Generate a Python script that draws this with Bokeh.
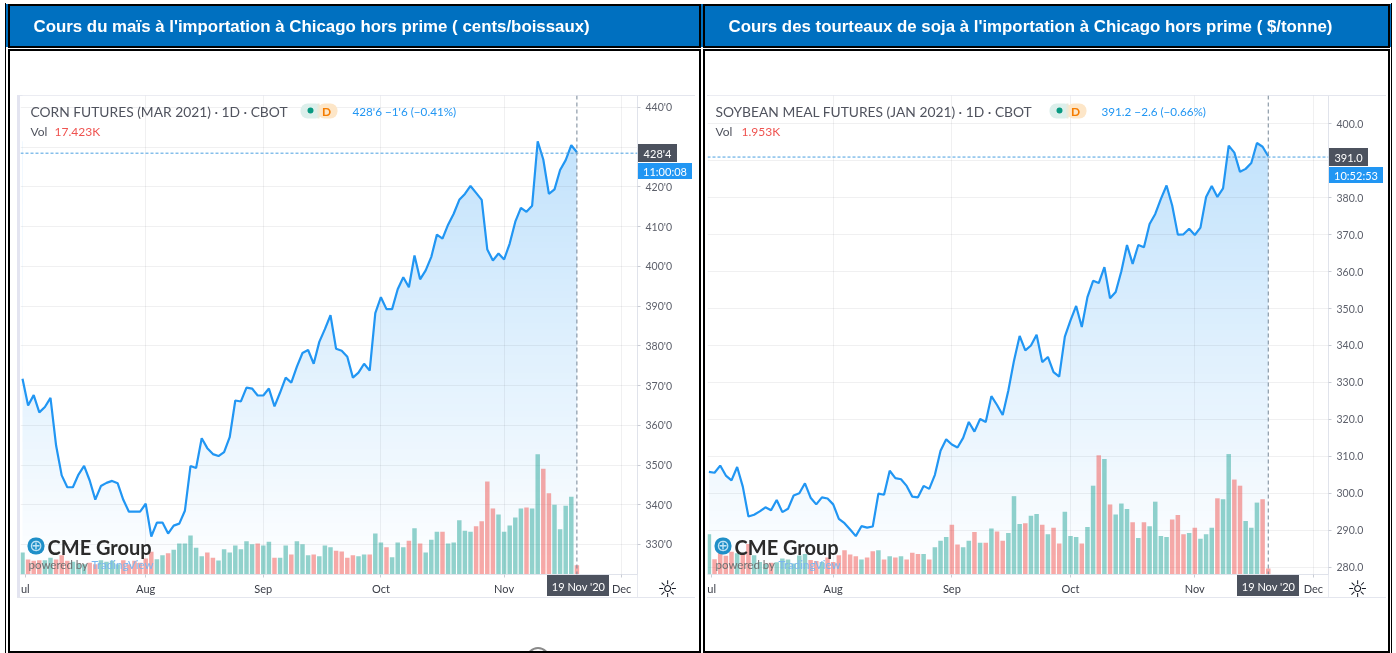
import numpy as np
from bokeh.embed import file_html
from bokeh.layouts import column, row
from bokeh.models import BoxAnnotation, Div, FixedTicker, Label, Range1d, Span
from bokeh.plotting import figure
from bokeh.resources import INLINE

corn_title = "Cours du maïs à l'importation à Chicago hors prime ( cents/boissaux)"
soy_title = "Cours des tourteaux de soja à l'importation à Chicago hors prime ( $/tonne)"

x_tick_idx = [0.5, 22, 43, 64, 86, 107]
x_tick_labels = ["ul", "Aug", "Sep", "Oct", "Nov", "Dec"]
grid_idx = [22, 43, 64, 86, 107]

corn_price = [371.7, 365.0, 367.6, 363.25, 364.6, 366.9, 354.9, 347.4, 344.4, 344.4,
              347.6, 349.8, 346.1, 341.3, 344.7, 345.5, 346.0, 345.4, 341.25, 338.25,
              338.25, 338.25, 340.25, 332.0, 335.5, 335.5, 332.75, 334.75, 335.25, 338.5,
              349.75, 349.25, 356.75, 354.25, 352.75, 352.25, 353.25, 357.0, 366.25, 366.0,
              369.5, 369.25, 367.5, 367.5, 369.25, 364.75, 368.25, 372.0, 370.75, 374.75,
              378.2, 378.95, 375.5, 381.0, 384.2, 387.7, 379.25, 378.75, 377.25, 372.0,
              373.25, 375.5, 373.75, 388.25, 392.25, 389.25, 389.25, 394.25, 397.25, 394.75,
              402.75, 396.75, 399.0, 402.4, 408.0, 407.0, 410.5, 413.25, 416.75, 418.25,
              420.25, 418.5, 416.75, 404.25, 401.5, 403.25, 401.75, 405.75, 411.25, 414.75,
              413.75, 415.25, 431.5, 426.9, 418.25, 419.4, 424.25, 426.75, 430.5, 428.75]
corn_volume = [41.1, 28.0, 25.5, 26.7, 26.7, 31.1, 28.0, 36.1, 25.5, 23.6,
               20.5, 19.3, 21.8, 19.3, 26.7, 23.6, 25.5, 19.3, 26.7, 19.3,
               25.5, 21.8, 29.9, 42.3, 28.6, 36.1, 39.8, 46.0, 57.8, 57.8,
               72.8, 49.8, 34.2, 41.1, 31.1, 26.1, 47.3, 41.1, 54.1, 47.3,
               62.2, 56.6, 57.8, 54.1, 61.0, 31.1, 31.1, 54.1, 37.3, 62.2,
               56.6, 36.1, 37.3, 34.2, 54.1, 51.0, 44.2, 42.9, 31.1, 36.1,
               34.2, 37.3, 37.3, 76.5, 59.7, 51.0, 32.3, 59.7, 51.0, 62.8,
               86.5, 57.8, 41.1, 64.7, 79.6, 79.6, 57.8, 59.7, 101.4, 81.5,
               79.6, 90.2, 99.5, 173.5, 123.2, 112.0, 79.6, 91.4, 106.4, 123.2,
               125.0, 123.2, 224.5, 197.2, 151.8, 130.0, 84.6, 128.1, 144.9, 17.423]
corn_down = [1, 2, 3, 6, 7, 8, 12, 13, 18, 19, 20, 21, 22, 23, 26, 33, 34, 42, 45, 48, 52,
             56, 57, 58, 59, 62, 65, 69, 71, 75, 81, 82, 83, 84, 90, 93, 94, 99]
corn_ticks = [330, 340, 350, 360, 370, 380, 390, 400, 410, 420, 430, 440]
corn_hidden_tick = 430

soy_price = [305.8, 305.55, 307.5, 304.8, 303.5, 307.1, 301.8, 293.7, 294.2, 295.1,
             296.2, 295.4, 298.2, 294.9, 295.8, 299.4, 300.0, 302.7, 298.8, 297.0,
             298.9, 298.6, 297.0, 293.1, 291.9, 290.2, 288.4, 291.1, 290.7, 291.0,
             299.9, 299.6, 306.1, 304.1, 303.8, 302.0, 299.1, 298.9, 302.0, 301.2,
             305.0, 311.5, 314.6, 313.2, 312.4, 315.0, 319.3, 316.7, 320.1, 319.3,
             326.3, 323.9, 321.2, 327.8, 335.9, 342.6, 338.7, 340.0, 342.9, 335.5,
             336.9, 332.8, 331.6, 342.4, 346.8, 350.7, 345.0, 353.1, 357.5, 356.9,
             361.2, 352.8, 354.5, 360.1, 367.2, 362.1, 367.2, 366.6, 372.9, 375.6,
             379.7, 383.3, 377.9, 370.0, 370.1, 371.6, 369.9, 371.9, 380.2, 383.2,
             380.2, 382.5, 394.1, 392.2, 387.0, 387.8, 389.4, 394.8, 393.8, 391.2]
soy_volume = [13.1, 5.0, 7.1, 6.1, 7.4, 6.9, 6.8, 9.9, 6.3, 4.1,
              3.4, 3.8, 4.0, 5.2, 4.9, 3.6, 6.2, 6.7, 4.7, 4.4,
              4.1, 5.5, 4.1, 6.3, 7.9, 6.5, 5.9, 4.9, 5.5, 7.6,
              7.9, 4.9, 5.9, 5.5, 5.9, 4.9, 7.1, 6.7, 6.7, 4.9,
              8.9, 11.0, 12.2, 16.2, 9.8, 8.9, 11.0, 13.8, 10.3, 10.3,
              15.0, 14.0, 11.0, 13.5, 25.5, 16.4, 16.7, 19.1, 19.7, 16.2,
              13.1, 15.2, 10.1, 20.4, 12.5, 12.2, 10.1, 15.5, 28.9, 38.8,
              37.6, 22.8, 19.5, 23.1, 21.3, 17.0, 11.9, 17.0, 15.7, 23.7,
              12.5, 12.2, 17.9, 19.4, 13.1, 13.5, 15.2, 11.6, 13.1, 15.2,
              24.8, 24.5, 39.2, 30.9, 28.9, 17.4, 15.2, 23.4, 24.5, 1.953]
soy_down = [1, 2, 3, 4, 6, 7, 11, 18, 19, 21, 22, 23, 24, 25, 26, 28, 29, 31, 33, 35, 36, 37,
            39, 43, 44, 47, 49, 51, 52, 56, 59, 61, 62, 66, 69, 71, 75, 77, 82, 83, 84, 86,
            90, 93, 94, 98, 99]
soy_ticks = [280, 290, 300, 310, 320, 330, 340, 350, 360, 370, 380, 390, 400]
soy_hidden_tick = 390

BLUE = "#2196f3"
DARK = "#4c525e"
FONT = "Lato"

chrome_html = []


def rect(l, t, r, b, fill=None, border=None, radius=0):
    """Page furniture behind the transparent figures, in page pixels."""
    style = (f"position:fixed;z-index:-1;box-sizing:border-box;left:{l}px;top:{t}px;"
             f"width:{r - l}px;height:{b - t}px;border-radius:{radius}px;")
    if fill:
        style += f"background:{fill};"
    if border:
        style += f"border:{border};"
    chrome_html.append(f'<div style="{style}"></div>')


def panel(x0, width, frame_l, frame_r, x_range, y_range, vol_end, price, volume, down, ticks, hidden,
          fmt, hline, name, name_x, quote, quote_x, vol_text, vol_val_x, price_box,
          timer, date_l, gear_x, chrome, pill):
    p = figure(width=width, height=653, output_backend="svg", toolbar_location=None,
               x_range=Range1d(*x_range), y_range=Range1d(*y_range), y_axis_location="right",
               min_border_left=frame_l - x0, min_border_right=x0 + width - frame_r,
               min_border_top=95, min_border_bottom=79, outline_line_color=None,
               background_fill_color=None, border_fill_color=None)
    p.extra_y_ranges = {"vol": Range1d(0, vol_end)}

    idx = np.arange(len(price))
    # gradient below the line: a one-column ramp, then the part above the line masked white
    low, high = y_range[0], max(price)
    n = 480
    ramp = np.zeros((n, 2), dtype=np.uint32)
    view = ramp.view(np.uint8).reshape((n, 2, 4))
    view[..., 0], view[..., 1], view[..., 2] = 33, 150, 243
    view[..., 3] = np.linspace(1, 70, n).astype(np.uint8)[:, None]
    p.image_rgba(image=[ramp], x=0, y=low, dw=len(price) - 1, dh=high - low, level="image")
    p.varea(x=idx, y1=price, y2=y_range[1], fill_color="white", level="image")

    p.vbar(x=idx, top=volume, bottom=0, width=0.8, y_range_name="vol", line_color=None,
           fill_color=["#ef5350" if i in down else "#26a69a" for i in idx], fill_alpha=0.5)
    p.line(x=idx, y=price, line_color=BLUE, line_width=2.2)

    shown = [t for t in ticks if t != hidden]
    p.xaxis.ticker = FixedTicker(ticks=x_tick_idx)
    p.xaxis.major_label_overrides = dict(zip(x_tick_idx, x_tick_labels))
    p.yaxis.ticker = FixedTicker(ticks=shown)
    p.yaxis.major_label_overrides = {t: fmt(t) for t in shown}
    for ax in (p.xaxis[0], p.yaxis[0]):
        ax.axis_line_color = "#e0e3eb"
        ax.major_tick_line_color = "#c9ccd4"
        ax.major_tick_out = 3
        ax.major_tick_in = 0
        ax.minor_tick_line_color = None
        ax.major_label_text_font = FONT
        ax.major_label_text_font_size = "11px"
    p.xaxis.major_label_text_color = "#3a3d47"
    p.xaxis.major_label_standoff = 4
    p.yaxis.major_label_text_color = "#5d606b"
    p.yaxis.major_label_text_font_size = "10.5px"
    p.yaxis.major_label_standoff = 5
    p.xgrid.ticker = FixedTicker(ticks=grid_idx)
    p.ygrid.ticker = FixedTicker(ticks=ticks)
    for g in (p.xgrid[0], p.ygrid[0]):
        g.grid_line_color = "#2a2e39"
        g.grid_line_alpha = 0.07

    p.add_layout(Span(location=len(price) - 1, dimension="height", line_color="#758696",
                      line_dash="4 3", line_width=1))
    p.add_layout(Span(location=hline, dimension="width", line_color="#4a9fe0",
                      line_dash="3 2", line_width=1))

    def box(l, t, r, b, fill, radius=0):
        # inside the frame only: box annotations are clipped to it
        p.add_layout(BoxAnnotation(left=l - x0, right=r - x0, top=t, bottom=b,
                                   left_units="canvas", right_units="canvas",
                                   top_units="canvas", bottom_units="canvas",
                                   fill_color=fill, fill_alpha=1, line_color=None,
                                   border_radius=radius))

    def text(x, y, s, color, size, font=FONT, style="normal", align="left", place="center"):
        p.add_layout(Label(x=x - x0, y=y, x_units="canvas", y_units="canvas", text=s,
                           text_color=color, text_font_size=f"{size}px", text_font=font,
                           text_font_style=style, text_align=align, text_baseline="middle"), place)

    # chart widget rules
    rect(chrome[0], 95, chrome[1], 96, fill="#e4e6ee")
    rect(chrome[0], 597, chrome[1], 598, fill="#e4e6ee")
    rect(frame_r, 95, frame_r + 1, 597, fill="#e8eaf0")

    # legend
    text(name_x, 110.5, name, "#50535e", 13.8)
    box(pill, 103, pill + 22, 118, "#dcefeb", radius=7)
    box(pill + 17, 103, pill + 37, 118, "#fde6c8", radius=7)
    box(pill + 17, 103, pill + 19, 118, "#e9eadb")
    box(pill + 7, 107, pill + 13, 113, "#089981", radius=3)
    text(pill + 26, 110.5, "D", "#f57c00", 12, style="bold", align="center")
    text(quote_x, 110.5, quote, BLUE, 11.7)
    text(name_x, 131, "Vol", "#50535e", 12)
    text(vol_val_x, 131, vol_text, "#ef5350", 12)

    # price and countdown labels
    fl = frame_r
    rect(fl, price_box, fl + 40, price_box + 18, fill=DARK)
    text(fl + 20, price_box + 9, fmt(hline), "white", 11, align="center", place="above")
    rect(fl, price_box + 18.5, fl + 55, price_box + 35, fill=BLUE)
    text(fl + 27.5, price_box + 27, timer, "white", 11, align="center", place="above")

    # date label and settings icon
    rect(date_l, 575, date_l + 62, 596, fill=DARK)
    text(date_l + 31, 585.5, "19 Nov '20", "white", 11, align="center", place="below")
    text(gear_x, 588, "☼", "#131722", 23, font="DejaVu Sans", align="center", place="below")

    # watermark
    wm = frame_l + 7
    box(wm, 537, wm + 17, 554, "#1f8fc8", radius=8)
    text(wm + 8.5, 545, "⊕", "#bfe3f5", 16, font="DejaVu Sans", align="center")
    text(wm + 20, 546, "CME Group", "#2b2b2b", 20, style="bold")
    text(wm + 1, 564, "powered by", "#707070", 11.5)
    text(wm + 64, 564, "TradingView", "#7ab7f0", 11.5)

    return p, text


def corn_fmt(t):
    whole = int(t)
    return f"{whole}'{int(round((t - whole) * 8))}"


def soy_fmt(t):
    return f"{t:.1f}"


rect(5, 4, 702, 47, fill="#0070c0")
rect(702, 4, 1391, 47, fill="#0070c0")

p1, text1 = panel(
    0, 702, 20, 637,
    ((20 - 22) / 5.6, (637 - 22) / 5.6), (322.44, 443.02), 893.8,
    corn_price, corn_volume, corn_down, corn_ticks, corn_hidden_tick, corn_fmt, 428.5,
    "CORN FUTURES (MAR 2021) · 1D · CBOT", 30, "428'6  −1'6 (−0.41%)", 352,
    "17.423K", 54, 144, "11:00:08", 547, 667, (17, 695), 300)
rect(17, 95, 20, 597, fill="#e3e4f0")

p2, text2 = panel(
    702, 694, 707, 1328,
    ((707 - 708.4) / 5.65, (1328 - 708.4) / 5.65), (278.02, 407.66), 155.9,
    soy_price, soy_volume, soy_down, soy_ticks, soy_hidden_tick, soy_fmt, 391.0,
    "SOYBEAN MEAL FUTURES (JAN 2021) · 1D · CBOT", 715, "391.2  −2.6 (−0.66%)", 1101,
    "1.953K", 741, 148, "10:52:53", 1237, 1357, (707, 1386), 1049)

# table chrome: banner and double rules
rect(526, 647, 550, 671, border="2px solid #8a8a8a", radius=12)
for tx, l, r, title, title_x in ((text1, 7.5, 701, corn_title, 33), (text2, 702.5, 1389.5, soy_title, 728)):
    tx(title_x, 26, title, "white", 16.85, font="Liberation Sans", style="bold", place="above")
    rect(l, 4, r, 48, border="2px solid black")
    rect(l, 49, r, 653, border="2px solid black")
rect(4.5, 3, 6, 653, fill="black")
rect(1390.5, 3, 1392, 653, fill="black")

chrome = Div(text="".join(chrome_html), width=1, height=0, margin=0)
layout = column(chrome, row(p1, p2, spacing=0), spacing=0)
open("out.html", "w").write(file_html(layout, INLINE))
